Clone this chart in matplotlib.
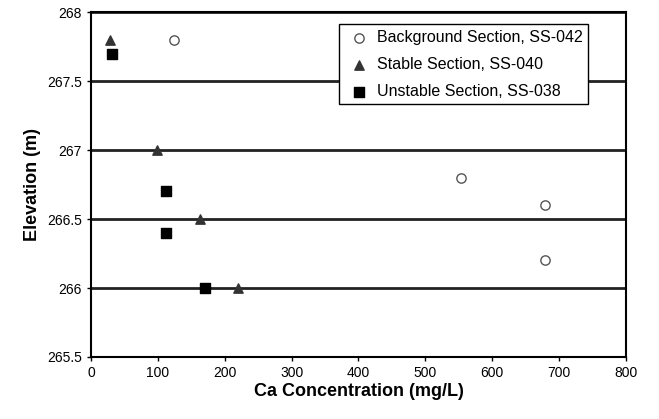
import matplotlib
matplotlib.use("Agg")
import matplotlib.pyplot as plt

plt.rcParams['font.family'] = ['Liberation Sans', 'DejaVu Sans']

bg_x = [124, 553, 679, 679]
bg_y = [267.8, 266.8, 266.6, 266.2]
stable_x = [28, 99, 163, 220]
stable_y = [267.8, 267.0, 266.5, 266.0]
unstable_x = [31, 112, 112, 170]
unstable_y = [267.7, 266.7, 266.4, 266.0]

x_ticks = [0, 100, 200, 300, 400, 500, 600, 700, 800]
y_ticks = [265.5, 266, 266.5, 267, 267.5, 268]
y_labels = ['265.5', '266', '266.5', '267', '267.5', '268']

fig = plt.figure(figsize=(6.59, 4.19), dpi=100)
ax = fig.add_axes([0.138, 0.148, 0.812, 0.823])

ax.set_xlim(0, 800)
ax.set_ylim(265.5, 268)
ax.set_xticks(x_ticks)
ax.set_yticks(y_ticks)
ax.set_yticklabels(y_labels)
ax.yaxis.grid(True, color='#222222', linewidth=2.0)
ax.set_axisbelow(True)
for s in ax.spines.values():
    s.set_linewidth(1.5)
    s.set_color('black')

ax.scatter(bg_x, bg_y, marker='o', s=45, facecolors='white', edgecolors='#555555',
           linewidths=1.0, label='Background Section, SS-042', zorder=3)
ax.scatter(stable_x, stable_y, marker='^', s=45, color='#333333',
           label='Stable Section, SS-040', zorder=3)
ax.scatter(unstable_x, unstable_y, marker='s', s=50, color='black',
           label='Unstable Section, SS-038', zorder=3)

ax.tick_params(axis='both', labelsize=10, length=3, width=1, direction='out')
ax.set_xlabel('Ca Concentration (mg/L)', fontsize=13, fontweight='bold', labelpad=2)
ax.set_ylabel('Elevation (m)', fontsize=13, fontweight='bold', labelpad=4)

leg = ax.legend(loc='upper right', bbox_to_anchor=(0.929, 0.965), fontsize=11.5,
                frameon=True, fancybox=False, edgecolor='black', framealpha=1,
                handletextpad=0.2, handlelength=1.8, borderpad=0.35, labelspacing=0.75,
                borderaxespad=0.0)
leg.get_frame().set_linewidth(1.0)

fig.savefig('out.png', dpi=100)
